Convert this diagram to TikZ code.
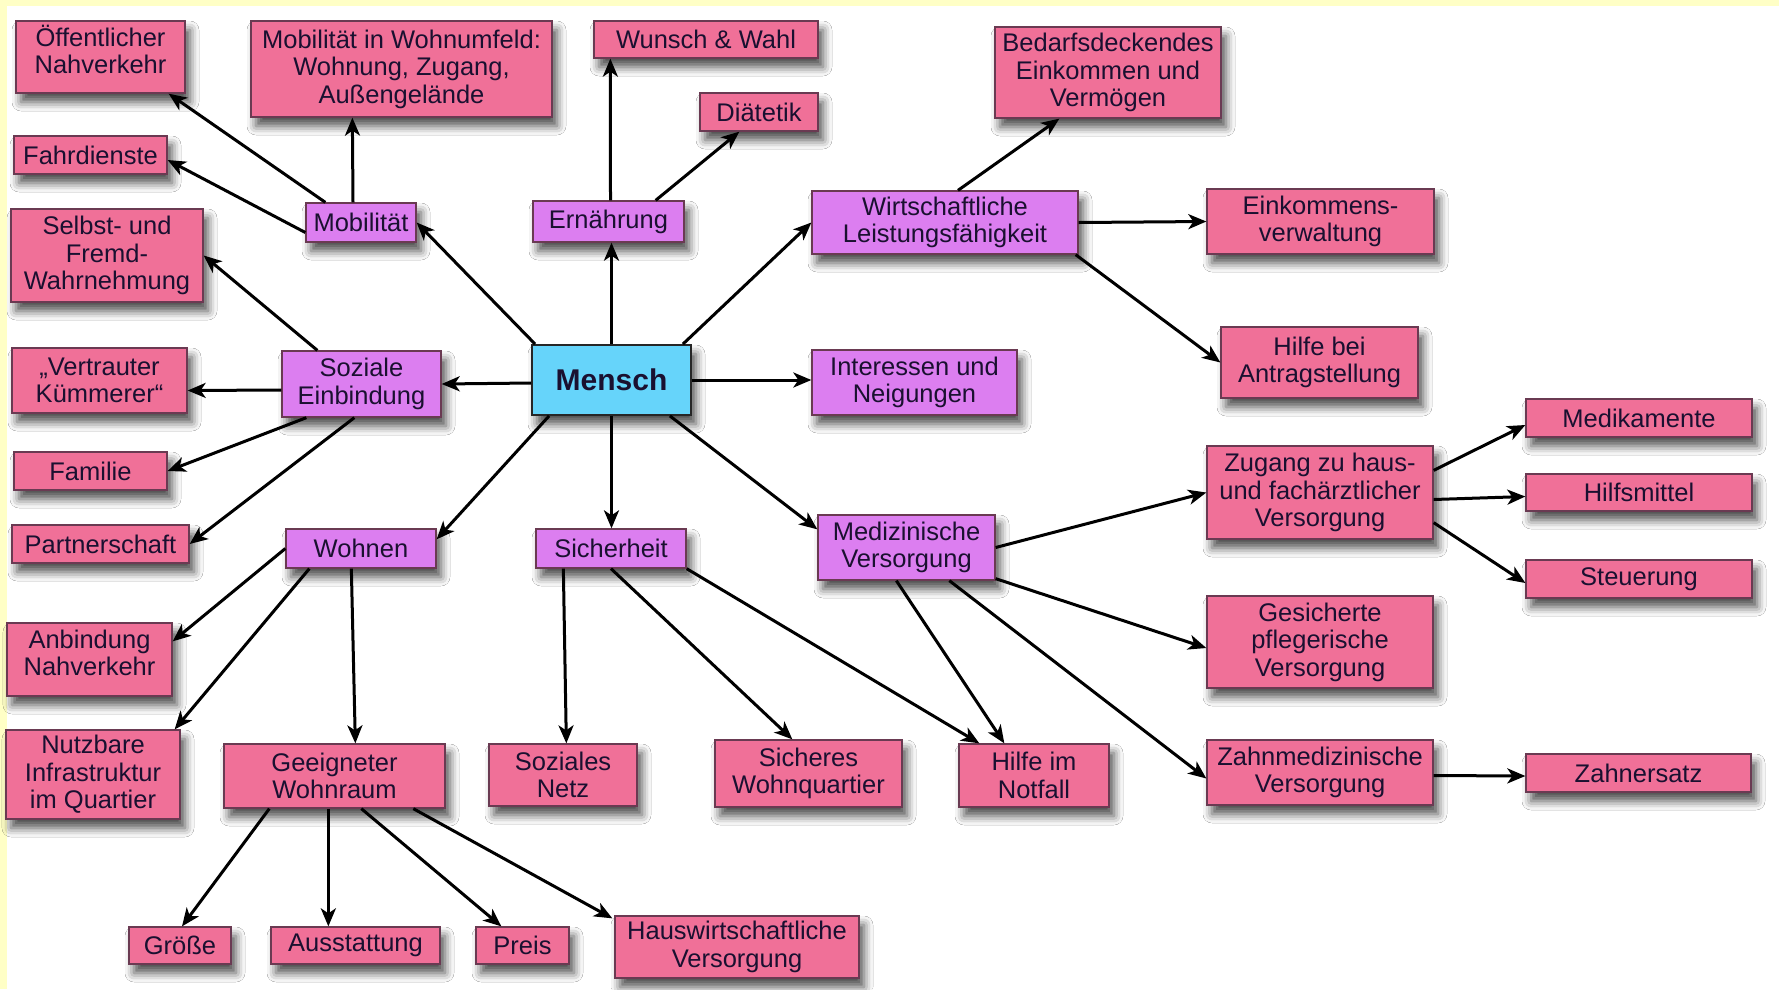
\documentclass[tikz,border=0pt]{standalone}
\usepackage{fontspec}
\setmainfont{Liberation Sans}
\usetikzlibrary{arrows.meta,calc,shadows.blur}
\definecolor{pinkc}{HTML}{F07098}
\definecolor{purpc}{HTML}{DC7EF0}
\definecolor{cyanc}{HTML}{66D4FA}
\definecolor{edgec}{HTML}{6A3A52}
\definecolor{bgyel}{HTML}{FFFFC6}
\definecolor{txtc}{HTML}{1A1030}
\newcommand\bx[7]{%
 \pgfmathsetmacro\bxcx{(#3+#5)/2}\pgfmathsetmacro\bxcy{(#4+#6)/2}%
 \pgfmathsetmacro\bxw{#5-#3}\pgfmathsetmacro\bxh{#6-#4}%
 \node[#1, minimum width=\bxw pt, minimum height=\bxh pt] (#2) at (\bxcx,\bxcy) {#7};}
\begin{document}
\begin{tikzpicture}[x=1pt,y=-1pt,
 box/.style={draw=edgec, line width=1.3pt, inner sep=0pt, align=center, text=txtc,
   font=\fontsize{25.5}{27.5}\selectfont,
   blur shadow={shadow xshift=5pt, shadow yshift=-9pt, shadow blur radius=9pt, shadow opacity=70}},
 pinkbox/.style={box, fill=pinkc},
 purpbox/.style={box, fill=purpc},
 corebox/.style={box, fill=cyanc, line width=1.8pt, draw=black!85, font=\fontsize{30}{32}\selectfont\bfseries},
 arr/.style={-{Stealth[length=18pt,width=15pt,inset=5pt]}, line width=3pt, black}]
\useasboundingbox (0,0) rectangle (1779,989);
\fill[white] (0,0) rectangle (1779,989);
\fill[bgyel] (0,0) rectangle (1779,6);
\fill[bgyel] (0,0) rectangle (7,989);

\bx{pinkbox}{oeff}{16}{21}{185}{93}{Öffentlicher\\Nahverkehr\\[-12pt]~}
\bx{pinkbox}{mobwohn}{251}{21}{552}{117}{Mobilität in Wohnumfeld:\\Wohnung, Zugang,\\Außengelände}
\bx{pinkbox}{wunsch}{594}{21}{818}{58}{Wunsch \& Wahl}
\bx{pinkbox}{diaet}{700}{93}{818}{131}{Diätetik}
\bx{pinkbox}{bedarf}{995}{27}{1221}{118}{Bedarfsdeckendes\\Einkommen und\\Vermögen}
\bx{pinkbox}{fahr}{14}{136}{167}{174}{Fahrdienste}
\bx{purpbox}{mob}{306}{203}{416}{242}{Mobilität}
\bx{purpbox}{ern}{533}{201}{684}{242}{Ernährung}
\bx{purpbox}{wirt}{812}{191}{1078}{254}{Wirtschaftliche\\Leistungsfähigkeit}
\bx{pinkbox}{einkverw}{1207}{189}{1434}{254}{Einkommens-\\verwaltung}
\bx{pinkbox}{selbst}{11}{209}{203}{302}{Selbst- und\\Fremd-\\Wahrnehmung}
\bx{pinkbox}{vertr}{12}{348}{187}{413}{„Vertrauter\\Kümmerer“}
\bx{purpbox}{soz}{282}{351}{441}{417}{Soziale\\Einbindung}
\bx{corebox}{mensch}{532}{345}{691}{415}{Mensch}
\bx{purpbox}{inter}{812}{350}{1017}{415}{Interessen und\\Neigungen}
\bx{pinkbox}{hilfeantr}{1221}{327}{1418}{398}{Hilfe bei\\Antragstellung}
\bx{pinkbox}{medik}{1526}{399}{1752}{437}{Medikamente}
\bx{pinkbox}{zugang}{1207}{446}{1433}{539}{Zugang zu haus-\\und fachärztlicher\\Versorgung}
\bx{pinkbox}{hilfsm}{1526}{474}{1752}{511}{Hilfsmittel}
\bx{pinkbox}{familie}{14}{452}{167}{490}{Familie}
\bx{pinkbox}{partner}{12}{525}{189}{563}{Partnerschaft}
\bx{purpbox}{wohnen}{286}{529}{436}{568}{Wohnen}
\bx{purpbox}{sicher}{536}{529}{686}{568}{Sicherheit}
\bx{purpbox}{medver}{818}{515}{995}{580}{Medizinische\\Versorgung}
\bx{pinkbox}{steuer}{1526}{560}{1752}{598}{Steuerung}
\bx{pinkbox}{gesich}{1207}{596}{1433}{688}{Gesicherte\\pflegerische\\Versorgung}
\bx{pinkbox}{anbind}{7}{623}{172}{696}{Anbindung\\Nahverkehr\\[-14pt]~}
\bx{pinkbox}{nutzbar}{6}{730}{180}{819}{Nutzbare\\Infrastruktur\\im Quartier}
\bx{pinkbox}{geeig}{224}{744}{445}{808}{Geeigneter\\Wohnraum}
\bx{pinkbox}{soznetz}{489}{744}{637}{806}{Soziales\\Netz}
\bx{pinkbox}{sicheres}{715}{740}{902}{807}{Sicheres\\Wohnquartier}
\bx{pinkbox}{hilfenot}{959}{744}{1109}{807}{Hilfe im\\Notfall}
\bx{pinkbox}{zahnmed}{1207}{740}{1433}{805}{Zahnmedizinische\\Versorgung}
\bx{pinkbox}{zahners}{1526}{754}{1751}{792}{Zahnersatz}
\bx{pinkbox}{groesse}{129}{927}{231}{964}{Größe}
\bx{pinkbox}{ausst}{271}{927}{440}{964}{Ausstattung}
\bx{pinkbox}{preis}{476}{927}{569}{964}{Preis}
\bx{pinkbox}{hausw}{615}{916}{859}{978}{Hauswirtschaftliche\\Versorgung}

% Mensch
\draw[arr] ($(mensch.north west)+(4,0)$) -- (mob.east);
\draw[arr] (mensch.north) -- (mensch.north |- ern.south);
\draw[arr] ($(mensch.north east)+(-9,0)$) -- (wirt.west);
\draw[arr] ($(mensch.west)+(0,3)$) -- (soz.east);
\draw[arr] (mensch.east) -- (mensch.east -| inter.west);
\draw[arr] ($(mensch.south west)+(18,0)$) -- ($(wohnen.north east)+(0,11)$);
\draw[arr] (mensch.south) -- (mensch.south |- sicher.north);
\draw[arr] ($(mensch.south east)+(-22,0)$) -- ($(medver.north west)+(0,15)$);
% Mobilitaet
\draw[arr] ($(mob.north west)+(20,0)$) -- ($(oeff.south east)+(-17,0)$);
\draw[arr] ($(mob.west)+(0,10)$) -- ($(fahr.east)+(0,5)$);
\draw[arr] ($(mob.north)+(-8,0)$) -- ($(mobwohn.south west)+(102,0)$);
% Ernaehrung
\draw[arr] ($(ern.north)+(2,0)$) -- ($(wunsch.south west)+(17,0)$);
\draw[arr] ($(ern.north east)+(-29,0)$) -- ($(diaet.south west)+(40,0)$);
% Wirtschaftliche
\draw[arr] ($(wirt.north)+(13,0)$) -- ($(bedarf.south west)+(65,0)$);
\draw[arr] (wirt.east) -- (einkverw.west);
\draw[arr] ($(wirt.south east)+(-3,0)$) -- (hilfeantr.west);
% Soziale Einbindung
\draw[arr] ($(soz.north west)+(36,0)$) -- (selbst.east);
\draw[arr] ($(soz.west)+(0,6)$) -- ($(vertr.east)+(0,10)$);
\draw[arr] ($(soz.south west)+(25,0)$) -- (familie.east);
\draw[arr] ($(soz.south west)+(73,0)$) -- (partner.east);
% Wohnen
\draw[arr] (wohnen.west) -- ($(anbind.north east)+(0,19)$);
\draw[arr] ($(wohnen.south west)+(24,0)$) -- ($(nutzbar.north east)+(-6,0)$);
\draw[arr] ($(wohnen.south west)+(66,0)$) -- ($(geeig.north west)+(132,0)$);
% Sicherheit
\draw[arr] ($(sicher.south west)+(28,0)$) -- ($(soznetz.north west)+(78,0)$);
\draw[arr] (sicher.south) -- ($(sicheres.north west)+(78,0)$);
\draw[arr] (sicher.south east) -- ($(hilfenot.north west)+(21,0)$);
% Medizinische Versorgung
\draw[arr] (medver.east) -- (zugang.west);
\draw[arr] ($(medver.south east)+(0,-2)$) -- ($(gesich.west)+(0,6)$);
\draw[arr] ($(medver.south west)+(79,0)$) -- ($(hilfenot.north west)+(46,0)$);
\draw[arr] ($(medver.south west)+(132,0)$) -- ($(zahnmed.west)+(0,6)$);
% Zugang
\draw[arr] ($(zugang.north east)+(0,25)$) -- ($(medik.west)+(0,7)$);
\draw[arr] ($(zugang.east)+(0,7)$) -- ($(hilfsm.west)+(0,4)$);
\draw[arr] ($(zugang.south east)+(0,-17)$) -- ($(steuer.west)+(0,4)$);
\draw[arr] ($(zahnmed.east)+(0,3)$) -- ($(zahners.west)+(0,3)$);
% Geeigneter Wohnraum
\draw[arr] ($(geeig.south west)+(46,0)$) -- ($(groesse.north)+(2,0)$);
\draw[arr] ($(geeig.south west)+(105,0)$) -- ($(ausst.north west)+(58,0)$);
\draw[arr] ($(geeig.south west)+(138,0)$) -- ($(preis.north west)+(26,0)$);
\draw[arr] ($(geeig.south west)+(190,0)$) -- ($(hausw.north west)+(-2,3)$);
\end{tikzpicture}
\end{document}
